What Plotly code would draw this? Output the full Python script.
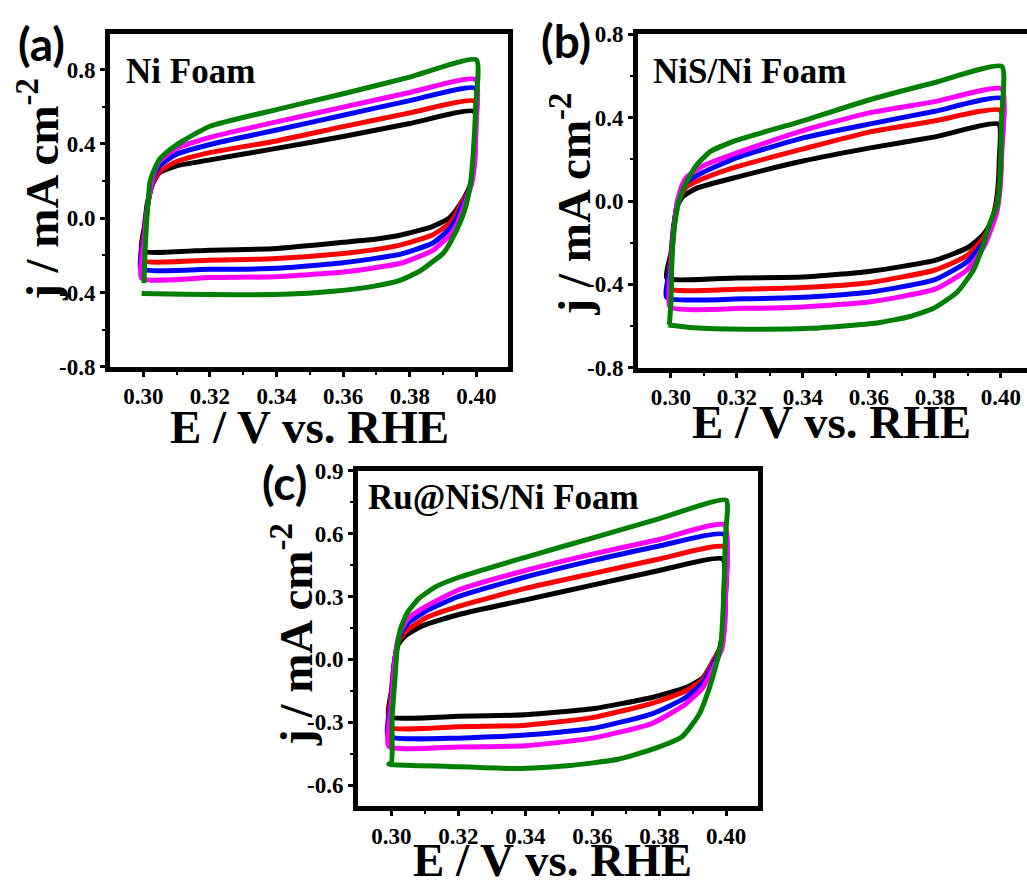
import plotly.graph_objects as go

W, H = 1027, 890

# ---------------- data ----------------
# Panel (a) Ni Foam
A_black_E = [0.2995, 0.3003, 0.3012, 0.3025, 0.3035, 0.305, 0.31, 0.32, 0.34, 0.36, 0.38, 0.3993,
             0.3995, 0.3990, 0.3980, 0.3965, 0.3955, 0.3938, 0.3918, 0.3868, 0.377, 0.37, 0.36, 0.34, 0.32, 0.2995]
A_black_j = [-0.175, -0.05, 0.08, 0.17, 0.21, 0.247, 0.282, 0.314, 0.376, 0.44, 0.51, 0.575,
             0.40, 0.26, 0.17, 0.115, 0.085, 0.04, 0.0, -0.045, -0.092, -0.112, -0.13, -0.163, -0.172, -0.175]
A_red_E = [0.2993, 0.3003, 0.3012, 0.3025, 0.3035, 0.305, 0.31, 0.32, 0.34, 0.36, 0.38, 0.3995,
           0.3997, 0.3992, 0.3982, 0.3968, 0.3955, 0.3938, 0.3918, 0.3868, 0.377, 0.37, 0.36, 0.34, 0.32, 0.2993]
A_red_j = [-0.226, -0.08, 0.06, 0.17, 0.215, 0.255, 0.305, 0.353, 0.416, 0.493, 0.567, 0.63,
           0.45, 0.28, 0.17, 0.115, 0.08, 0.02, -0.03, -0.09, -0.145, -0.168, -0.19, -0.217, -0.226, -0.226]
A_blue_E = [0.2992, 0.3003, 0.3012, 0.3025, 0.3035, 0.305, 0.31, 0.32, 0.34, 0.36, 0.38, 0.3997,
            0.3998, 0.3993, 0.3983, 0.397, 0.3955, 0.3938, 0.3918, 0.3868, 0.377, 0.37, 0.36, 0.34, 0.32, 0.2992]
A_blue_j = [-0.27, -0.1, 0.06, 0.18, 0.24, 0.285, 0.345, 0.397, 0.475, 0.554, 0.633, 0.70,
            0.50, 0.30, 0.18, 0.11, 0.06, -0.01, -0.061, -0.135, -0.195, -0.215, -0.24, -0.27, -0.275, -0.27]
A_magenta_E = [0.2995, 0.3003, 0.3012, 0.3025, 0.3035, 0.305, 0.31, 0.32, 0.34, 0.36, 0.38, 0.3998,
               0.3999, 0.3995, 0.3985, 0.3972, 0.3958, 0.394, 0.3918, 0.3868, 0.377, 0.37, 0.36, 0.34, 0.32, 0.2995]
A_magenta_j = [-0.323, -0.12, 0.05, 0.19, 0.26, 0.31, 0.375, 0.435, 0.519, 0.598, 0.677, 0.747,
               0.50, 0.30, 0.18, 0.11, 0.04, -0.04, -0.096, -0.175, -0.244, -0.265, -0.29, -0.315, -0.32, -0.323]
A_green_E = [0.3002, 0.3005, 0.301, 0.3015, 0.302, 0.3035, 0.305, 0.307, 0.31, 0.313, 0.32, 0.34, 0.36, 0.38, 0.40,
             0.3998, 0.399, 0.3983, 0.397, 0.3953, 0.3925, 0.39, 0.3868, 0.383, 0.377, 0.369, 0.357, 0.342, 0.327,
             0.312, 0.2995]
A_green_j = [-0.35, -0.19, -0.016, 0.10, 0.195, 0.27, 0.32, 0.355, 0.395, 0.428, 0.495, 0.585, 0.67, 0.76, 0.853,
             0.60, 0.335, 0.195, 0.075, -0.016, -0.12, -0.19, -0.235, -0.285, -0.335, -0.367, -0.393, -0.41, -0.412,
             -0.41, -0.405]

# Panel (b) NiS/Ni Foam
B_black_E = [0.2987, 0.30, 0.3008, 0.302, 0.3037, 0.3078, 0.32, 0.34, 0.36, 0.38, 0.3993,
             0.3995, 0.399, 0.398, 0.3968, 0.3947, 0.39, 0.38, 0.36, 0.34, 0.32, 0.2987]
B_black_j = [-0.369, -0.25, -0.12, -0.02, 0.023, 0.062, 0.115, 0.192, 0.254, 0.308, 0.369,
             0.20, 0.05, -0.05, -0.108, -0.16, -0.223, -0.285, -0.338, -0.365, -0.369, -0.369]
B_red_E = [0.2992, 0.30, 0.3008, 0.302, 0.3035, 0.3048, 0.3098, 0.32, 0.34, 0.36, 0.38, 0.3998,
           0.3999, 0.3993, 0.3982, 0.3968, 0.3947, 0.3897, 0.38, 0.36, 0.34, 0.32, 0.2992]
B_red_j = [-0.42, -0.28, -0.13, -0.01, 0.04, 0.069, 0.108, 0.165, 0.25, 0.331, 0.385, 0.435,
           0.20, 0.05, -0.05, -0.115, -0.177, -0.262, -0.331, -0.392, -0.415, -0.423, -0.42]
B_blue_E = [0.2987, 0.30, 0.3008, 0.302, 0.3035, 0.3048, 0.3098, 0.32, 0.34, 0.36, 0.38, 0.4003,
            0.4002, 0.3995, 0.3985, 0.3972, 0.3947, 0.3897, 0.38, 0.36, 0.34, 0.322, 0.2987]
B_blue_j = [-0.462, -0.30, -0.14, 0.0, 0.06, 0.092, 0.138, 0.208, 0.303, 0.369, 0.431, 0.492,
            0.25, 0.05, -0.05, -0.115, -0.20, -0.292, -0.377, -0.438, -0.462, -0.469, -0.462]
B_magenta_E = [0.2997, 0.30, 0.3008, 0.302, 0.3035, 0.3048, 0.3098, 0.32, 0.34, 0.36, 0.38, 0.4003,
               0.4003, 0.3997, 0.3988, 0.3975, 0.3947, 0.3897, 0.38, 0.36, 0.34, 0.322, 0.2997]
B_magenta_j = [-0.508, -0.32, -0.15, 0.0, 0.08, 0.115, 0.169, 0.231, 0.338, 0.423, 0.477, 0.538,
               0.25, 0.05, -0.05, -0.115, -0.223, -0.331, -0.423, -0.485, -0.508, -0.515, -0.508]
B_green_E = [0.2995, 0.30, 0.3002, 0.3007, 0.3017, 0.3027, 0.305, 0.308, 0.312, 0.32, 0.34, 0.36, 0.38, 0.4003,
             0.4002, 0.3998, 0.3988, 0.3968, 0.3947, 0.3917, 0.3867, 0.3796, 0.3725, 0.3624, 0.3422, 0.322,
             0.3068, 0.2992]
B_green_j = [-0.595, -0.485, -0.33, -0.177, -0.054, 0.015, 0.10, 0.177, 0.238, 0.292, 0.385, 0.485, 0.569, 0.646,
             0.40, 0.13, -0.023, -0.10, -0.208, -0.33, -0.438, -0.515, -0.554, -0.585, -0.611, -0.615,
             -0.608, -0.595]

# Panel (c) Ru@NiS/Ni Foam
C_black_E = [0.2992, 0.30, 0.3008, 0.302, 0.3042, 0.3093, 0.3204, 0.34, 0.36, 0.38, 0.399,
             0.3993, 0.399, 0.398, 0.396, 0.393, 0.3879, 0.3778, 0.36, 0.34, 0.32, 0.2992]
C_black_j = [-0.272, -0.15, -0.02, 0.07, 0.113, 0.16, 0.215, 0.284, 0.354, 0.424, 0.479,
             0.30, 0.15, 0.05, -0.011, -0.089, -0.135, -0.182, -0.236, -0.264, -0.272, -0.272]
C_red_E = [0.2992, 0.30, 0.3008, 0.302, 0.3035, 0.3052, 0.3103, 0.32, 0.34, 0.36, 0.38, 0.3995,
           0.3997, 0.3992, 0.3982, 0.396, 0.393, 0.3879, 0.3778, 0.36, 0.34, 0.32, 0.2992]
C_red_j = [-0.322, -0.17, -0.02, 0.08, 0.12, 0.145, 0.199, 0.253, 0.339, 0.409, 0.479, 0.536,
           0.30, 0.15, 0.05, -0.011, -0.096, -0.151, -0.21, -0.278, -0.314, -0.322, -0.322]
C_blue_E = [0.299, 0.30, 0.3008, 0.302, 0.3035, 0.3052, 0.3103, 0.32, 0.34, 0.36, 0.38, 0.3995,
            0.3998, 0.3994, 0.3985, 0.3965, 0.393, 0.3879, 0.3778, 0.36, 0.34, 0.32, 0.299]
C_blue_j = [-0.365, -0.20, -0.03, 0.09, 0.14, 0.176, 0.23, 0.30, 0.393, 0.471, 0.541, 0.595,
            0.30, 0.15, 0.05, -0.011, -0.112, -0.182, -0.26, -0.33, -0.361, -0.376, -0.365]
C_magenta_E = [0.2992, 0.30, 0.3008, 0.302, 0.3035, 0.3052, 0.3103, 0.32, 0.34, 0.36, 0.38, 0.3995,
               0.3998, 0.3995, 0.3987, 0.397, 0.393, 0.3879, 0.3778, 0.36, 0.34, 0.32, 0.2992]
C_magenta_j = [-0.415, -0.22, -0.04, 0.10, 0.16, 0.199, 0.253, 0.331, 0.424, 0.502, 0.572, 0.642,
               0.30, 0.15, 0.05, -0.011, -0.135, -0.213, -0.306, -0.376, -0.412, -0.418, -0.415]
C_green_E = [0.2992, 0.30, 0.3002, 0.301, 0.3017, 0.3027, 0.3047, 0.3083, 0.3133, 0.3204, 0.34, 0.3602, 0.3803, 0.40,
             0.3998, 0.3992, 0.3985, 0.397, 0.395, 0.392, 0.3869, 0.3778, 0.3677, 0.3526, 0.3375, 0.3173, 0.2992]
C_green_j = [-0.50, -0.493, -0.275, -0.104, 0.051, 0.145, 0.222, 0.292, 0.347, 0.393, 0.487, 0.58, 0.673, 0.759,
             0.595, 0.284, 0.082, -0.026, -0.135, -0.26, -0.368, -0.43, -0.477, -0.508, -0.521, -0.511, -0.50]

series_colors = ["#000000", "#ff0000", "#0000ff", "#ff00ff", "#008000"]
series_names = ["black", "red", "blue", "magenta", "green"]

x_tickvals = [0.30, 0.32, 0.34, 0.36, 0.38, 0.40]
x_ticktext = ["0.30", "0.32", "0.34", "0.36", "0.38", "0.40"]
x_minor = [0.31, 0.33, 0.35, 0.37, 0.39]
yab_tickvals = [-0.8, -0.4, 0.0, 0.4, 0.8]
yab_ticktext = ["-0.8", "-0.4", "0.0", "0.4", "0.8"]
yab_minor = [-0.6, -0.2, 0.2, 0.6]
yc_tickvals = [-0.6, -0.3, 0.0, 0.3, 0.6, 0.9]
yc_ticktext = ["-0.6", "-0.3", "0.0", "0.3", "0.6", "0.9"]
yc_minor = [-0.45, -0.15, 0.15, 0.45, 0.75]

panel_titles = ["Ni Foam", "NiS/Ni Foam", "Ru@NiS/Ni Foam"]
panel_letters = ["(a)", "(b)", "(c)"]

# ---------------- figure ----------------
fig = go.Figure()

panels = [
    ("", [(A_black_E, A_black_j), (A_red_E, A_red_j), (A_blue_E, A_blue_j), (A_magenta_E, A_magenta_j), (A_green_E, A_green_j)]),
    ("2", [(B_black_E, B_black_j), (B_red_E, B_red_j), (B_blue_E, B_blue_j), (B_magenta_E, B_magenta_j), (B_green_E, B_green_j)]),
    ("3", [(C_black_E, C_black_j), (C_red_E, C_red_j), (C_blue_E, C_blue_j), (C_magenta_E, C_magenta_j), (C_green_E, C_green_j)]),
]

for suf, curves in panels:
    for (E, j), col, nm in zip(curves, series_colors, series_names):
        fig.add_trace(go.Scatter(
            x=E, y=j, mode="lines", name=nm,
            line=dict(color=col, width=5, shape="spline", smoothing=0.5),
            xaxis="x" + suf, yaxis="y" + suf, showlegend=False, hoverinfo="skip"))

def px(v):
    return v / W

def py(v):
    return 1 - v / H

serif = "Liberation Serif, Times New Roman, serif"
tickfont = dict(family=serif, size=23, color="black", weight="bold")

def xax(domain, rng, anchor):
    return dict(domain=domain, range=rng, anchor=anchor, showgrid=False, zeroline=False,
                showline=True, linecolor="black", linewidth=5, mirror=True,
                ticks="outside", ticklen=5, tickwidth=2.5, tickcolor="black",
                tickvals=x_tickvals, ticktext=x_ticktext, tickfont=tickfont,
                minor=dict(ticks="outside", ticklen=3, tickwidth=2, tickcolor="black", tickvals=x_minor))

def yax(domain, rng, anchor, tv, tt, mv, mirror=True):
    return dict(domain=domain, range=rng, anchor=anchor, showgrid=False, zeroline=False,
                showline=True, linecolor="black", linewidth=5, mirror=mirror,
                ticks="outside", ticklen=5, tickwidth=2.5, tickcolor="black",
                tickvals=tv, ticktext=tt, tickfont=tickfont,
                minor=dict(ticks="outside", ticklen=3, tickwidth=2, tickcolor="black", tickvals=mv))

fig.update_layout(
    width=W, height=H, autosize=False,
    margin=dict(l=0, r=0, t=0, b=0),
    paper_bgcolor="white", plot_bgcolor="white",
    showlegend=False,
    xaxis=xax([px(110), px(508)], [0.29, 0.4095], "y"),
    yaxis=yax([py(365), py(23)], [-0.8, 0.99], "x", yab_tickvals, yab_ticktext, yab_minor),
    xaxis2=xax([px(638), 1.0], [0.29, 0.4079], "y2"),
    yaxis2=yax([py(366), py(23)], [-0.8, 0.8], "x2", yab_tickvals, yab_ticktext, yab_minor, mirror=False),
    xaxis3=xax([px(358), px(758)], [0.29, 0.4095], "y3"),
    yaxis3=yax([py(817), py(472)], [-0.7, 0.9], "x3", yc_tickvals, yc_ticktext, yc_minor),
)

ann = []
# panel letters
for txt, (x, y) in zip(panel_letters, [(41, 32), (566, 29), (284, 484)]):
    ann.append(dict(text=txt, x=px(x), y=py(y), xref="paper", yref="paper", showarrow=False,
                    xanchor="center", yanchor="middle",
                    font=dict(family="Lato, Liberation Sans, Arial", size=46, color="black", weight="bold")))
# sample names
for txt, (x, y) in zip(panel_titles, [(124, 61), (651, 61), (366, 500)]):
    ann.append(dict(text=txt, x=px(x), y=py(y), xref="paper", yref="paper", showarrow=False,
                    xanchor="left", yanchor="middle",
                    font=dict(family=serif, size=35, color="black", weight="bold")))
# x titles
for (x, y) in [(309, 427), (831, 422), (552, 873)]:
    ann.append(dict(text="E / V vs. RHE", x=px(x), y=py(y), xref="paper", yref="paper", showarrow=False,
                    xanchor="center", yanchor="middle",
                    font=dict(family=serif, size=47, color="black", weight="bold")))
# y titles
for (x, y) in [(39, 183), (571, 198), (293, 641)]:
    ann.append(dict(text="j / mA cm<sup>-2</sup>", x=px(x), y=py(y), xref="paper", yref="paper",
                    showarrow=False, textangle=-90, xanchor="center", yanchor="middle",
                    font=dict(family=serif, size=47, color="black", weight="bold")))
fig.update_layout(annotations=ann)

fig.write_html("out.html")
